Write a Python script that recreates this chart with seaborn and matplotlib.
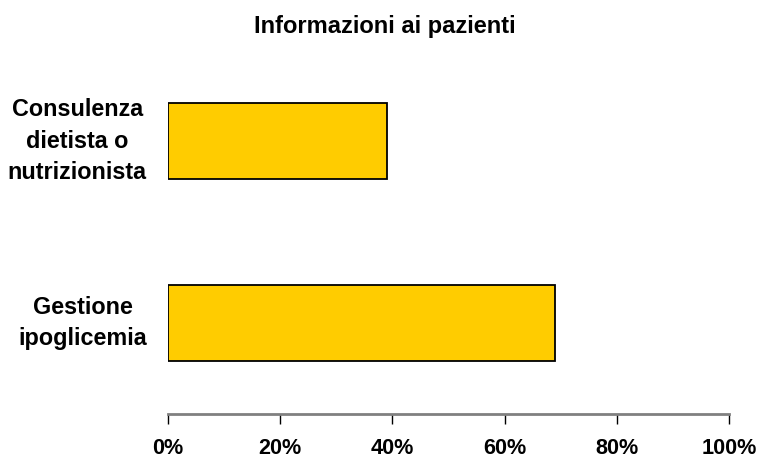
import matplotlib
matplotlib.use("Agg")
import matplotlib.pyplot as plt
from matplotlib import font_manager as fm
import seaborn as sns
import pandas as pd
from matplotlib.ticker import FuncFormatter, MultipleLocator

categories = ["Consulenza\ndietista o\nnutrizionista", "Gestione\nipoglicemia"]
values = [39, 69]
title = "Informazioni ai pazienti"

sns.set_style("white")
plt.rcParams['font.family'] = ['Liberation Sans', 'DejaVu Sans']
plt.rcParams['text.color'] = 'black'

bold_path = None
for p in fm.findSystemFonts():
    if p.endswith("LiberationSans-Bold.ttf"):
        bold_path = p
        break

def fp(size):
    if bold_path:
        return fm.FontProperties(fname=bold_path, size=size)
    return fm.FontProperties(family="Liberation Sans", weight="bold", size=size)

df = pd.DataFrame({"cat": categories, "val": values})

fig = plt.figure(figsize=(7.62, 4.58), dpi=100)
ax = fig.add_axes([167.7/762, 1-414/458, (729.3-167.7)/762, (414-50)/458])

sns.barplot(data=df, x="val", y="cat", orient="h", color="#FFCC00",
            saturation=1, edgecolor="black", linewidth=1.3, width=0.415, ax=ax)

ax.set_xlim(0, 100)
ax.set_ylim(1.5, -0.5)
ax.xaxis.set_major_locator(MultipleLocator(20))
ax.xaxis.set_major_formatter(FuncFormatter(lambda v, p: f"{v:.0f}%"))
ax.set_xlabel("")
ax.set_ylabel("")

for s in ["top", "right", "left"]:
    ax.spines[s].set_visible(False)
ax.spines["bottom"].set_color("#808080")
ax.spines["bottom"].set_linewidth(2)

ax.tick_params(axis="x", length=7, width=1, color="black", pad=10,
               labelcolor="black", bottom=True)
ax.tick_params(axis="y", length=0, pad=15, labelcolor="black")
for lab in ax.get_xticklabels():
    lab.set_fontproperties(fp(15.6))
for lab in ax.get_yticklabels():
    lab.set_fontproperties(fp(16.8))
    lab.set_multialignment("center")
    lab.set_linespacing(1.45)
    lab.set_verticalalignment("center")

fig.text(384.7/762, 1-26/458, title, ha="center", va="center",
         fontproperties=fp(17), color="black")

fig.savefig("out.png", dpi=100)
